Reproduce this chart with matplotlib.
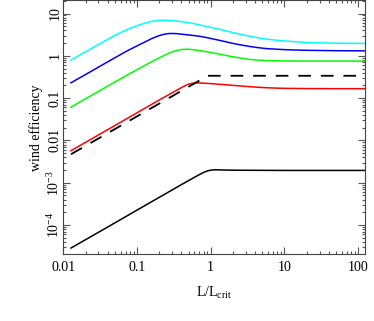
import matplotlib
matplotlib.use("Agg")
import matplotlib.pyplot as plt
from matplotlib.ticker import LogLocator, FixedLocator, FixedFormatter, NullFormatter

plt.rcParams['font.family'] = ['Liberation Serif', 'DejaVu Serif']
plt.rcParams['mathtext.fontset'] = 'custom'
plt.rcParams['mathtext.rm'] = 'Liberation Serif'
plt.rcParams['mathtext.it'] = 'Liberation Serif:italic'

# ---- data ----
x_cyan = [0.0127, 0.02, 0.035, 0.055, 0.08, 0.1, 0.13, 0.16, 0.2, 0.25, 0.32, 0.42, 0.55, 0.7, 0.9, 1.2, 1.6, 2.0, 2.7, 3.4, 4.5, 6.0, 8.0, 10, 14, 20, 30, 40, 60, 124]
y_cyan = [0.79, 1.24, 2.15, 3.3, 4.45, 5.15, 5.95, 6.55, 6.9, 6.95, 6.75, 6.35, 5.9, 5.4, 4.9, 4.4, 3.9, 3.55, 3.15, 2.9, 2.65, 2.45, 2.33, 2.25, 2.15, 2.07, 2.02, 2.0, 1.98, 1.96]

x_blue = [0.0127, 0.02, 0.04, 0.07, 0.1, 0.13, 0.16, 0.2, 0.24, 0.28, 0.34, 0.42, 0.55, 0.7, 0.9, 1.2, 1.6, 2.0, 2.7, 3.4, 4.5, 5.7, 8.0, 10, 14, 20, 50, 124]
y_blue = [0.23, 0.36, 0.72, 1.25, 1.72, 2.15, 2.58, 3.0, 3.27, 3.37, 3.35, 3.22, 3.06, 2.9, 2.68, 2.4, 2.15, 1.96, 1.78, 1.66, 1.55, 1.48, 1.43, 1.4, 1.37, 1.35, 1.32, 1.31]

x_green = [0.0127, 0.02, 0.05, 0.1, 0.15, 0.2, 0.25, 0.3, 0.36, 0.42, 0.5, 0.6, 0.75, 0.9, 1.2, 1.6, 2.0, 2.7, 3.4, 4.5, 6.0, 10, 20, 50, 124]
y_green = [0.061, 0.096, 0.24, 0.47, 0.69, 0.89, 1.08, 1.24, 1.36, 1.42, 1.43, 1.39, 1.31, 1.24, 1.13, 1.02, 0.95, 0.87, 0.82, 0.79, 0.77, 0.755, 0.75, 0.75, 0.75]

x_red = [0.0127, 0.05, 0.1, 0.2, 0.3, 0.38, 0.45, 0.52, 0.6, 0.7, 0.85, 1.0, 1.2, 1.6, 2.0, 2.7, 3.4, 4.5, 6.0, 10, 20, 50, 124]
y_red = [0.0057, 0.0224, 0.045, 0.09, 0.134, 0.168, 0.197, 0.218, 0.228, 0.228, 0.224, 0.22, 0.215, 0.207, 0.2, 0.192, 0.186, 0.18, 0.175, 0.17, 0.168, 0.167, 0.167]

x_black = [0.0127, 0.05, 0.1, 0.2, 0.4, 0.6, 0.7, 0.8, 0.9, 1.0, 1.15, 1.35, 1.6, 2.5, 5, 10, 30, 124]
y_black = [2.85e-5, 1.12e-4, 2.25e-4, 4.5e-4, 9.0e-4, 1.34e-3, 1.55e-3, 1.75e-3, 1.9e-3, 1.98e-3, 2.02e-3, 2.01e-3, 1.99e-3, 1.97e-3, 1.96e-3, 1.95e-3, 1.95e-3, 1.95e-3]

x_dash = [0.0127, 0.91, 124]
y_dash = [0.0047, 0.337, 0.337]

xticks = [0.01, 0.1, 1, 10, 100]
xticklabels = ['0.01', '0.1', '1', '10', '100']
yticks = [1e-4, 1e-3, 1e-2, 1e-1, 1, 10]
yticklabels = [r'$10^{-4}$', r'$10^{-3}$', '0.01', '0.1', '1', '10']

# ---- figure ----
fig = plt.figure(figsize=(3.74, 3.21), dpi=100)
ax = fig.add_axes([0.1693, 0.2078, 0.8067, 0.7915])

lw = 1.1
ax.plot(x_cyan, y_cyan, color='#00ffff', lw=lw)
ax.plot(x_blue, y_blue, color='#0000ff', lw=lw)
ax.plot(x_green, y_green, color='#00ff00', lw=lw)
ax.plot(x_red, y_red, color='#ff0000', lw=lw)
ax.plot(x_black, y_black, color='black', lw=lw)
ax.plot(x_dash, y_dash, color='black', lw=1.3, linestyle=(0, (7, 5.5)))

ax.set_xscale('log')
ax.set_yscale('log')
ax.set_xlim(0.01, 124)
ax.set_ylim(2.03e-5, 20.6)

ax.xaxis.set_major_locator(FixedLocator(xticks))
ax.xaxis.set_major_formatter(FixedFormatter(xticklabels))
ax.yaxis.set_major_locator(FixedLocator(yticks))
ax.yaxis.set_major_formatter(FixedFormatter(yticklabels))
ax.xaxis.set_minor_locator(LogLocator(base=10, subs=range(2, 10), numticks=30))
ax.yaxis.set_minor_locator(LogLocator(base=10, subs=range(2, 10), numticks=30))
ax.xaxis.set_minor_formatter(NullFormatter())
ax.yaxis.set_minor_formatter(NullFormatter())

ax.tick_params(which='both', direction='in', top=True, right=True, labelsize=10, color='#555555', width=0.8)
ax.tick_params(which='major', length=5)
ax.tick_params(axis='x', which='major', pad=5)
ax.tick_params(axis='y', which='major', pad=1)
ax.tick_params(which='minor', length=2.5)
ax.tick_params(axis='y', labelrotation=90)
for lab in ax.get_yticklabels():
    lab.set_verticalalignment('center')

for s in ax.spines.values():
    s.set_linewidth(0.8)
    s.set_color('#444444')

ax.set_xlabel(r'L/L$_{\rm crit}$', fontsize=10, labelpad=8)
ax.set_ylabel('wind efficiency', fontsize=10, labelpad=2)

fig.savefig('out.png', dpi=100)
